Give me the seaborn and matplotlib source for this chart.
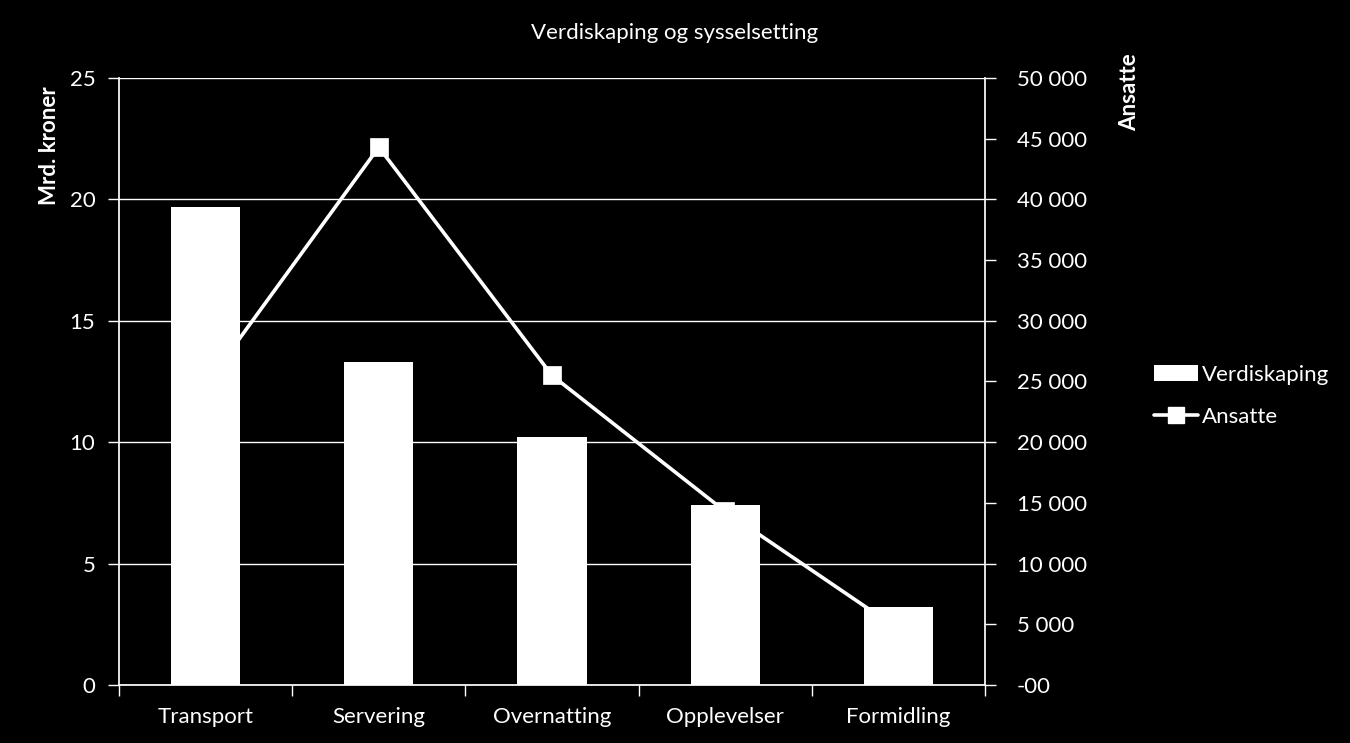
import matplotlib
matplotlib.use("Agg")
import matplotlib.pyplot as plt
import seaborn as sns
import pandas as pd
from matplotlib.ticker import FuncFormatter
from matplotlib.patches import Patch
from matplotlib.lines import Line2D

categories = ["Transport", "Servering", "Overnatting", "Opplevelser", "Formidling"]
verdiskaping = [19.7, 13.3, 10.2, 7.4, 3.2]
ansatte = [24700, 44300, 25500, 14300, 4600]
left_ticks = [0, 5, 10, 15, 20, 25]
right_ticks = [0, 5000, 10000, 15000, 20000, 25000, 30000, 35000, 40000, 45000, 50000]

sns.set_theme(style="dark")
plt.rcParams["font.family"] = ["Lato", "DejaVu Sans"]
plt.rcParams["text.color"] = "white"

df = pd.DataFrame({"kategori": categories, "verdi": verdiskaping, "ansatte": ansatte})

fig = plt.figure(figsize=(13.5, 7.43), dpi=100, facecolor="black")
ax = fig.add_axes([119/1350, 1-685/743, (985-119)/1350, (685-78)/743])
ax2 = ax.twinx()

# line (behind bars)
sns.pointplot(data=df, x="kategori", y="ansatte", ax=ax2, color="white",
              markers="s", linestyles="-", markersize=11, linewidth=2.6,
              errorbar=None)
ax2.set_facecolor("black")
ax2.set_ylim(0, 50000)
ax2.set_yticks(right_ticks)
ax2.yaxis.set_major_formatter(FuncFormatter(
    lambda v, p: "-00" if v == 0 else f"{int(v):,}".replace(",", " ")))
ax2.set_ylabel("")
ax2.set_xlabel("")

# bars on top
sns.barplot(data=df, x="kategori", y="verdi", ax=ax, color="white",
            width=0.4, saturation=1, edgecolor="none")
ax.set_zorder(ax2.get_zorder() + 1)
ax.patch.set_visible(False)
ax.set_ylim(0, 25)
ax.set_yticks(left_ticks)
ax.set_xlim(-0.5, 4.5)
ax.set_xlabel("")
ax.set_ylabel("")
ax.grid(axis="y", color="white", linewidth=1.0)
ax.grid(axis="x", visible=False)
ax.set_axisbelow(True)

for a in (ax, ax2):
    for s in a.spines.values():
        s.set_visible(False)
ax.spines["left"].set_visible(True)
ax.spines["left"].set_color("white")
ax.spines["bottom"].set_visible(True)
ax.spines["bottom"].set_color("white")
ax2.spines["right"].set_visible(True)
ax2.spines["right"].set_color("white")

ax.tick_params(axis="y", colors="white", labelsize=16, length=8, width=1,
               direction="out", left=True, pad=9)
ax2.tick_params(axis="y", colors="white", labelsize=16, length=8, width=1,
                direction="out", right=True, pad=15)
ax.set_xticks(range(len(categories)))
ax.set_xticklabels(categories)
ax.set_xticks([i - 0.5 for i in range(len(categories) + 1)], minor=True)
ax.tick_params(axis="x", which="major", colors="white", labelsize=16, length=0, pad=16)
ax.tick_params(axis="x", which="minor", colors="white", length=8, width=1,
               direction="out", bottom=True)
ax2.tick_params(axis="x", length=0, labelbottom=False)

fig.text(0.5, 1-33/743, "Verdiskaping og sysselsetting", ha="center", va="center",
         fontsize=16, color="white")
fig.text(50/1350, 1-146/743, "Mrd. kroner", rotation=90, ha="center", va="center",
         fontsize=16, fontweight="bold", color="white")
fig.text(1130/1350, 1-92/743, "Ansatte", rotation=90, ha="center", va="center",
         fontsize=16, fontweight="bold", color="white")

handles = [Patch(facecolor="white", edgecolor="none", label="Verdiskaping"),
           Line2D([0], [0], color="white", lw=2.6, marker="s", markersize=11, label="Ansatte")]
fig.legend(handles=handles, loc="center left", bbox_to_anchor=(1134/1350, 1-396/743),
           frameon=False, fontsize=16, labelcolor="white", handlelength=2.0,
           handletextpad=0.15, labelspacing=1.0)

fig.savefig("out.png", dpi=100, facecolor="black")
